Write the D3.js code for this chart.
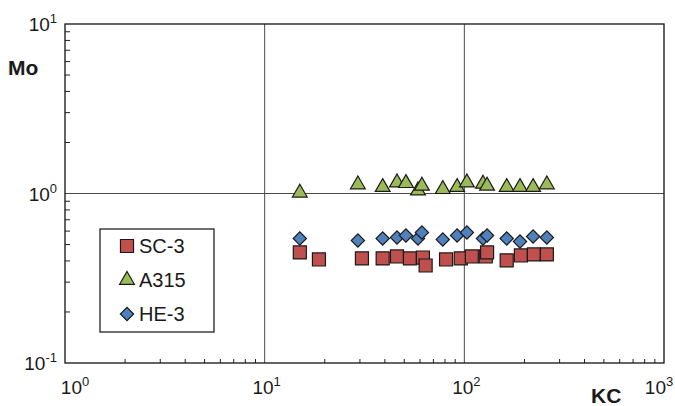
<!DOCTYPE html>
<html>
<head>
<meta charset="utf-8">
<script src="https://cdn.jsdelivr.net/npm/d3@7"></script>
<style>
  body { margin: 0; background: #fff; }
  svg text { font-family: Arial, "Liberation Sans", sans-serif; fill: #1a1a1a; }
</style>
</head>
<body>
<svg id="chart" width="675" height="406"></svg>
<script>
// values
var sc3_kc = [15, 18.7, 30.7, 39, 46, 53.4, 62, 64, 81, 96, 109, 128, 130, 163, 192, 223, 259];
var sc3_mo = [0.449, 0.408, 0.414, 0.414, 0.425, 0.414, 0.419, 0.376, 0.408, 0.414, 0.425, 0.425, 0.449, 0.403, 0.431, 0.437, 0.437];

var a315_kc = [15, 29.3, 39, 46, 51, 58.6, 61.3, 78, 92, 103, 124, 130, 163, 190, 221, 259];
var a315_mo = [1.01, 1.13, 1.09, 1.16, 1.15, 1.04, 1.11, 1.06, 1.09, 1.16, 1.14, 1.11, 1.09, 1.09, 1.09, 1.13];

var he3_kc = [15, 29.3, 39, 46, 51, 58.6, 61.3, 78, 92, 103, 124, 130, 163, 190, 221, 259];
var he3_mo = [0.543, 0.528, 0.543, 0.55, 0.565, 0.543, 0.589, 0.535, 0.565, 0.589, 0.543, 0.565, 0.543, 0.521, 0.557, 0.55];

var x_decades = [0, 1, 2, 3];
var y_decades = [-1, 0, 1];
var series_names = ["SC-3", "A315", "HE-3"];

var svg = d3.select("#chart");

var x = d3.scaleLog().domain([1, 1000]).range([65, 664]);
var y = d3.scaleLog().domain([0.1, 10]).range([363, 24]);

// minor ticks 2..9 in each decade
var minor_x = [], minor_y = [];
[1, 10, 100].forEach(function(b){
	for (var k = 2; k <= 9; k++) minor_x.push(b * k);
});
[0.1, 1].forEach(function(b){
	for (var k = 2; k <= 9; k++) minor_y.push(b * k);
});

// gridlines at 10, 100 and 1
svg.selectAll("line.vgrid")
.data([10, 100])
.enter().append("line")
.attr("class", "vgrid")
.attr("x1", function(d){ return x(d); })
.attr("x2", function(d){ return x(d); })
.attr("y1", y(10)).attr("y2", y(0.1))
.attr("stroke", "#4a4a4a").attr("stroke-width", 1);

svg.append("line")
.attr("x1", x(1)).attr("x2", x(1000))
.attr("y1", y(1)).attr("y2", y(1))
.attr("stroke", "#4a4a4a").attr("stroke-width", 1);

svg.selectAll("line.xminor")
.data(minor_x)
.enter().append("line")
.attr("x1", function(d){ return x(d); })
.attr("x2", function(d){ return x(d); })
.attr("y1", y(0.1)).attr("y2", y(0.1) - 4)
.attr("stroke", "#222");

svg.selectAll("line.yminor")
.data(minor_y)
.enter().append("line")
.attr("x1", x(1)).attr("x2", x(1) + 5)
.attr("y1", function(d){ return y(d); })
.attr("y2", function(d){ return y(d); })
.attr("stroke", "#222");

// frame
svg.append("rect")
.attr("x", x(1)).attr("y", y(10))
.attr("width", x(1000) - x(1))
.attr("height", y(0.1) - y(10))
.attr("fill", "none")
.attr("stroke", "#111").attr("stroke-width", 1.3);

// tick labels
function pow_label(sel, e){
	sel.append("tspan").text("10");
	sel.append("tspan").attr("dy", -8).attr("font-size", 13).text(e);
}

function x_shift(d){
	if (d === 0) return 10;
	if (d === 3) return -5;
	return 2;
}

svg.selectAll("text.xlab")
.data(x_decades)
.enter().append("text")
.attr("class", "xlab")
.attr("x", function(d){ return x(Math.pow(10, d)) + x_shift(d); })
.attr("y", 394)
.attr("text-anchor", "middle")
.attr("font-size", 19)
.each(function(d){ pow_label(d3.select(this), d); });

svg.selectAll("text.ylab")
.data(y_decades)
.enter().append("text")
.attr("class", "ylab")
.attr("x", 57)
.attr("y", function(d){ return y(Math.pow(10, d)) + 7; })
.attr("text-anchor", "end")
.attr("font-size", 19)
.each(function(d){ pow_label(d3.select(this), d); });

// axis titles
svg.append("text").attr("x", 8).attr("y", 75)
.attr("font-size", 21).attr("font-weight", "bold").text("Mo");
svg.append("text").attr("x", 591).attr("y", 403)
.attr("font-size", 21).attr("font-weight", "bold").text("KC");

// markers
var sym = {
	"SC-3": { path: d3.symbol().type(d3.symbolSquare).size(170)(), fill: "#c0504d", rot: 0 },
	"A315": { path: d3.symbol().type(d3.symbolTriangle).size(95)(), fill: "#9bbb59", rot: 0 },
	"HE-3": { path: d3.symbol().type(d3.symbolSquare).size(88)(), fill: "#4f81bd", rot: 45 }
};

function draw_series(name, kc, mo){
	var pts = kc.map(function(k, i){ return { kc: k, mo: mo[i] }; });
	svg.append("g")
	.selectAll("path")
	.data(pts)
	.enter().append("path")
	.attr("d", sym[name].path)
	.attr("transform", function(d){
		return "translate(" + x(d.kc) + "," + y(d.mo) + ") rotate(" + sym[name].rot + ")";
	})
	.attr("fill", sym[name].fill)
	.attr("stroke", "#1a1a1a")
	.attr("stroke-width", 1.2);
}

draw_series("A315", a315_kc, a315_mo);
draw_series("HE-3", he3_kc, he3_mo);
draw_series("SC-3", sc3_kc, sc3_mo);

// legend
var legend = svg.append("g");
legend.append("rect")
.attr("x", 100).attr("y", 229)
.attr("width", 114).attr("height", 103)
.attr("fill", "#fff")
.attr("stroke", "#222").attr("stroke-width", 1.3);

var item = legend.selectAll("g.item")
.data(series_names)
.enter().append("g")
.attr("transform", function(d, i){ return "translate(0," + (246 + i * 34) + ")"; });

item.append("path")
.attr("d", function(d){ return sym[d].path; })
.attr("transform", function(d){ return "translate(127,0) rotate(" + sym[d].rot + ")"; })
.attr("fill", function(d){ return sym[d].fill; })
.attr("stroke", "#1a1a1a")
.attr("stroke-width", 1.2);

item.append("text")
.attr("x", 139).attr("y", 7)
.attr("font-size", 20)
.text(function(d){ return d; });
</script>
</body>
</html>
